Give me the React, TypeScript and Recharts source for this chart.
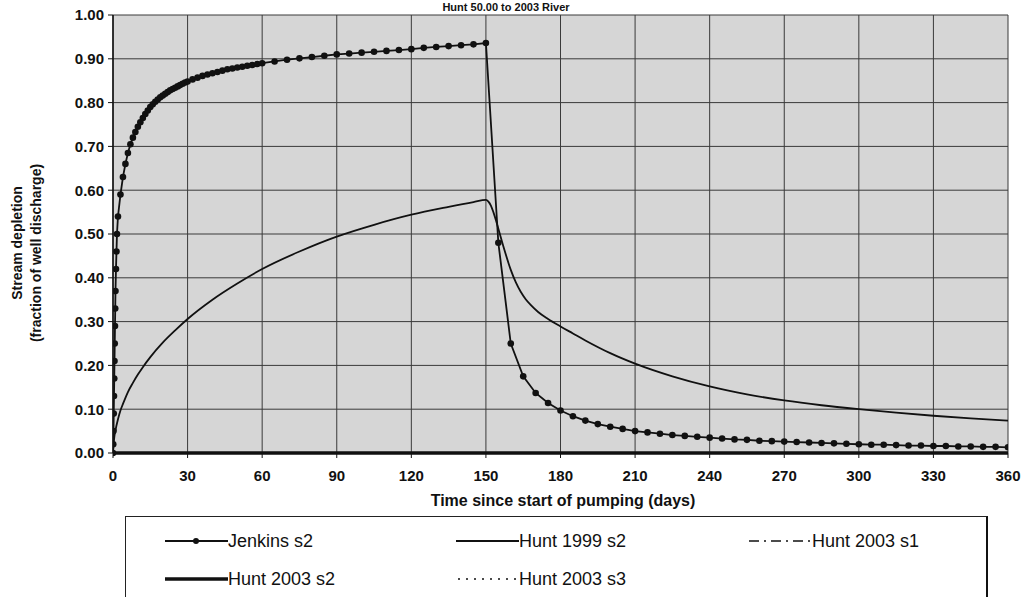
import { LineChart, Line, XAxis, YAxis, CartesianGrid } from 'recharts'

const FONT = "'Liberation Sans', Arial, sans-serif"

// Jenkins s2 – days / fraction of well discharge
const jenkinsT = [
  0, 0.1, 0.2, 0.3, 0.4, 0.5, 0.6, 0.7, 0.8, 0.9, 1.0, 1.2, 1.4, 1.6, 2, 3, 4, 5, 6, 7, 8, 9, 10,
  11, 12, 13, 14, 15, 16, 17, 18, 19, 20, 21, 22, 23, 24, 25, 26, 27, 28, 29, 30,
  32, 34, 36, 38, 40, 42, 44, 46, 48, 50, 52, 54, 56, 58, 60,
  65, 70, 75, 80, 85, 90, 95, 100, 105, 110, 115, 120, 125, 130, 135, 140, 145, 150,
  155, 160, 165, 170, 175, 180, 185, 190, 195, 200, 205, 210, 215, 220, 225, 230, 235, 240,
  245, 250, 255, 260, 265, 270, 275, 280, 285, 290, 295, 300, 305, 310, 315, 320, 325, 330,
  335, 340, 345, 350, 355, 360,
]
const jenkinsV = [
  0, 0.02, 0.05, 0.09, 0.13, 0.17, 0.21, 0.25, 0.29, 0.33, 0.37, 0.42, 0.46, 0.5, 0.54, 0.59, 0.63, 0.66, 0.685, 0.705, 0.72, 0.733, 0.745,
  0.755, 0.765, 0.774, 0.782, 0.79, 0.796, 0.802, 0.807, 0.812, 0.816, 0.82, 0.824, 0.828, 0.831, 0.834, 0.837, 0.84, 0.843, 0.846, 0.848,
  0.853, 0.857, 0.861, 0.864, 0.867, 0.87, 0.873, 0.876, 0.878, 0.88, 0.882, 0.884, 0.886, 0.888, 0.89,
  0.894, 0.898, 0.901, 0.904, 0.907, 0.91, 0.912, 0.914, 0.916, 0.918, 0.92, 0.922, 0.925, 0.927, 0.929, 0.931, 0.933, 0.936,
  0.48, 0.25, 0.175, 0.137, 0.114, 0.097, 0.084, 0.074, 0.066, 0.06, 0.055, 0.05, 0.047, 0.044, 0.041, 0.039, 0.037, 0.035,
  0.033, 0.031, 0.03, 0.028, 0.027, 0.026, 0.025, 0.024, 0.023, 0.022, 0.021, 0.02, 0.019, 0.019, 0.018, 0.017, 0.017, 0.016,
  0.016, 0.015, 0.015, 0.014, 0.014, 0.013,
]

// Hunt 1999 s2
const hunt99T = [
  0, 0.25, 0.5, 1, 2, 3, 4, 5, 6, 8, 10, 12, 15, 20, 25, 30, 40, 50, 60, 75, 90, 105, 120, 135, 145, 150,
  151, 152, 153, 154, 155, 156, 157, 158, 160, 162, 164, 166, 168, 171, 175, 180, 185, 190, 200, 210,
  225, 240, 255, 270, 285, 300, 315, 330, 345, 360,
]
const hunt99V = [
  0, 0.02, 0.035, 0.052, 0.077, 0.097, 0.112, 0.126, 0.139, 0.16, 0.179, 0.196, 0.219, 0.252, 0.28, 0.306, 0.35, 0.387, 0.42, 0.46, 0.494, 0.521, 0.544, 0.562, 0.573, 0.578,
  0.574, 0.565, 0.55, 0.532, 0.512, 0.492, 0.472, 0.453, 0.418, 0.39, 0.368, 0.351, 0.338, 0.322, 0.306, 0.289, 0.273, 0.257, 0.228, 0.204,
  0.175, 0.152, 0.134, 0.12, 0.109, 0.1, 0.092, 0.085, 0.079, 0.074,
]

// Hunt 2003 s1 / s2 / s3 stay on the axis
const hunt03T = [0, 60, 120, 180, 240, 300, 360]
const hunt03s1V = [0, 0, 0, 0, 0, 0, 0]
const hunt03s2V = [0, 0, 0, 0, 0, 0, 0]
const hunt03s3V = [0, 0, 0, 0, 0, 0, 0]

const xTicks = [0, 30, 60, 90, 120, 150, 180, 210, 240, 270, 300, 330, 360]
const yTicks = [0, 0.1, 0.2, 0.3, 0.4, 0.5, 0.6, 0.7, 0.8, 0.9, 1.0]

const zip = (ts: number[], vs: number[]) => ts.map((t, i) => ({ t, v: vs[i] }))

const tick = { fill: '#111', fontSize: 15, fontWeight: 700, fontFamily: FONT }

function LegendItem({ x, y, label, sym }: { x: number; y: number; label: string; sym: React.ReactNode }) {
  return (
    <div style={{ position: 'absolute', left: x, top: y - 12, height: 24, display: 'flex', alignItems: 'center' }}>
      <svg width={63} height={24}>{sym}</svg>
      <span style={{ fontFamily: FONT, fontSize: 18, color: '#111', lineHeight: '24px' }}>{label}</span>
    </div>
  )
}

export default function App() {
  return (
    <div style={{ position: 'absolute', left: 0, top: 0, width: 1026, height: 597, background: '#fff', overflow: 'hidden' }}>
      <LineChart width={1026} height={520} margin={{ top: 15, right: 18, left: 0, bottom: 0 }}>
        <CartesianGrid fill="#d6d6d6" stroke="#3a3a3a" strokeWidth={1} horizontalValues={yTicks} verticalValues={xTicks} />
        <XAxis
          type="number" dataKey="t" domain={[0, 360]} ticks={xTicks} allowDataOverflow
          height={67} tick={tick} tickSize={5} tickMargin={12}
          axisLine={{ stroke: '#111', strokeWidth: 1.5 }} tickLine={{ stroke: '#111' }}
        />
        <YAxis
          type="number" domain={[0, 1]} ticks={yTicks} width={113}
          tick={tick} tickSize={5} tickMargin={4} tickFormatter={(v: number) => v.toFixed(2)}
          axisLine={{ stroke: '#111', strokeWidth: 1.5 }} tickLine={{ stroke: '#111' }}
        />
        <Line data={zip(hunt03T, hunt03s1V)} dataKey="v" name="Hunt 2003 s1" type="linear" stroke="#111" strokeWidth={1.5} strokeDasharray="8 4 2 4" dot={false} isAnimationActive={false} />
        <Line data={zip(hunt03T, hunt03s3V)} dataKey="v" name="Hunt 2003 s3" type="linear" stroke="#111" strokeWidth={1.5} strokeDasharray="2 4" dot={false} isAnimationActive={false} />
        <Line data={zip(hunt03T, hunt03s2V)} dataKey="v" name="Hunt 2003 s2" type="linear" stroke="#111" strokeWidth={3.5} dot={false} isAnimationActive={false} />
        <Line data={zip(hunt99T, hunt99V)} dataKey="v" name="Hunt 1999 s2" type="monotone" stroke="#111" strokeWidth={1.8} dot={false} isAnimationActive={false} />
        <Line data={zip(jenkinsT, jenkinsV)} dataKey="v" name="Jenkins s2" type="linear" stroke="#111" strokeWidth={1.8}
          dot={{ r: 3.3, fill: '#111', stroke: '#111', strokeWidth: 0 }} isAnimationActive={false} />
      </LineChart>

      {/* titles */}
      <svg style={{ position: 'absolute', left: 0, top: 0 }} width={1026} height={597} pointerEvents="none">
        <text x={506} y={11} textAnchor="middle" fontFamily={FONT} fontSize={11} fontWeight={700} fill="#111">Hunt 50.00 to 2003 River</text>
        <text x={563} y={506} textAnchor="middle" fontFamily={FONT} fontSize={16} fontWeight={700} fill="#111">Time since start of pumping (days)</text>
        <text transform="rotate(-90 17 243)" x={17} y={243} textAnchor="middle" dominantBaseline="central" fontFamily={FONT} fontSize={14} fontWeight={700} fill="#111">Stream depletion</text>
        <text transform="rotate(-90 36 253)" x={36} y={253} textAnchor="middle" dominantBaseline="central" fontFamily={FONT} fontSize={14} fontWeight={700} fill="#111">(fraction of well discharge)</text>
      </svg>

      {/* legend */}
      <div style={{ position: 'absolute', left: 125, top: 516, width: 860, height: 80, borderTop: '1px solid #222', borderLeft: '1px solid #222', borderRight: '2px solid #111', borderBottom: '2px solid #111' }}>
        <LegendItem x={39} y={24} label="Jenkins s2" sym={<g><line x1={0} y1={12} x2={63} y2={12} stroke="#111" strokeWidth={1.8} /><circle cx={31} cy={12} r={3} fill="#111" /></g>} />
        <LegendItem x={330} y={24} label="Hunt 1999 s2" sym={<line x1={0} y1={12} x2={63} y2={12} stroke="#111" strokeWidth={1.8} />} />
        <LegendItem x={623} y={24} label="Hunt 2003 s1" sym={<line x1={0} y1={12} x2={63} y2={12} stroke="#111" strokeWidth={1.5} strokeDasharray="10 5 2 5" />} />
        <LegendItem x={39} y={62} label="Hunt 2003 s2" sym={<line x1={0} y1={12} x2={63} y2={12} stroke="#111" strokeWidth={3.5} />} />
        <LegendItem x={330} y={62} label="Hunt 2003 s3" sym={<line x1={2} y1={12} x2={63} y2={12} stroke="#111" strokeWidth={1.5} strokeDasharray="2 6" />} />
      </div>
    </div>
  )
}
